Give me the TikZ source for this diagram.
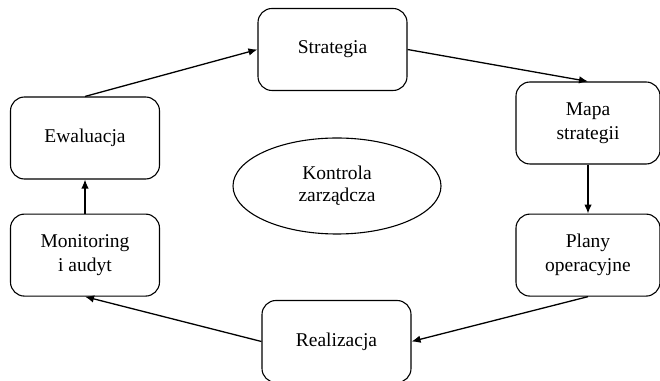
\documentclass[tikz,border=0pt]{standalone}
\usepackage{fontspec}
\setmainfont{Liberation Serif}
\usetikzlibrary{positioning,shapes.geometric,arrows.meta}

\begin{document}
\begin{tikzpicture}[
    x=1pt, y=1pt,
    stage/.style={rectangle, draw, rounded corners=14pt, line width=1.1pt, minimum width=149pt, minimum height=82pt, align=center, font=\fontsize{19.5}{24}\selectfont}, % Etapy cyklu
    arrow/.style={-{Latex[length=9pt,width=7.5pt]}, line width=1.3pt} % Strzałki
    ]
    \useasboundingbox (0,0) rectangle (660,380);

    % Etapy cyklu
    \node[stage] (S) at (332.5,330.5) {Strategia};
    \node[stage, minimum width=144pt] (M) at (588,257) {Mapa\\strategii};
    \node[stage, minimum width=144pt, below=49pt of M] (P) {Plany\\operacyjne};
    \node[stage] (R) at (336.5,38.5) {Realizacja};
    \node[stage] (E) at (85,242) {Ewaluacja};
    \node[stage, below=34pt of E] (MA) {Monitoring\\i audyt};

    % Środek
    \node[ellipse, draw, line width=1.1pt, minimum width=208pt, minimum height=96pt, align=center, font=\fontsize{19.5}{22}\selectfont] (K) at (337,194) {Kontrola\\zarządcza};

    % Połączenia
    \draw[arrow] (E.north) -- (S.west);
    \draw[arrow] (S.east) -- (M.north);
    \draw[arrow] (M.south) -- (P.north);
    \draw[arrow] (P.south) -- (R.east);
    \draw[arrow] (R.west) -- (MA.south);
    \draw[arrow] (MA.north) -- (E.south);

\end{tikzpicture}
\end{document}
